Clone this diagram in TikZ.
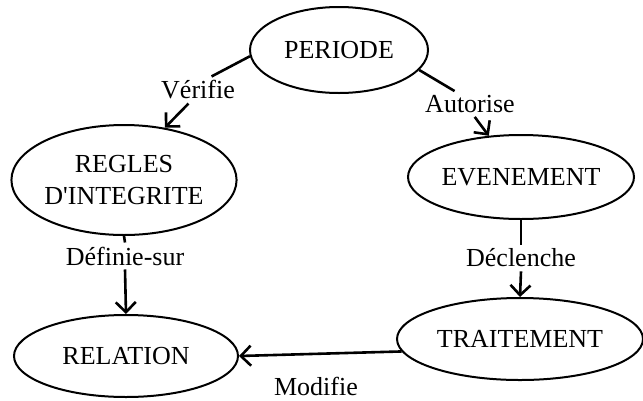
\documentclass[tikz,border=0pt]{standalone}
\usepackage{fontspec}
\setmainfont{Liberation Serif}
\usetikzlibrary{shapes.geometric,arrows.meta}

\begin{document}
\begin{tikzpicture}[x=1pt,y=-1pt,
    every node/.style={font=\fontsize{26}{32}\selectfont},
    entite/.style={draw, ellipse, line width=2pt, inner sep=0pt, align=center},
    lien/.style={line width=2.6pt},
    fleche/.style={lien, -{Straight Barb[length=10pt,width=20pt,line width=2.6pt]}},
    verbe/.style={inner sep=4pt}]
    \useasboundingbox (0,0) rectangle (643,400);

    % Entites
    \node[entite, minimum width=178pt, minimum height=86pt] (periode) at (339,50) {PERIODE};
    \node[entite, minimum width=222pt, minimum height=110pt] (regles) at (124,180) {REGLES\\D\textquotesingle INTEGRITE};
    \node[entite, minimum width=226pt, minimum height=84pt] (evenement) at (521,177) {EVENEMENT};
    \node[entite, minimum width=224pt, minimum height=82pt] (relation) at (126,356) {RELATION};
    \node[entite, minimum width=246pt, minimum height=82pt] (traitement) at (520,339) {TRAITEMENT};

    % Verbes
    \node[verbe] (verifie) at (198,90) {Vérifie};
    \node[verbe] (autorise) at (470,104) {Autorise};
    \node[verbe] (definie) at (125,256) {Définie-sur};
    \node[verbe] (declenche) at (521,258) {Déclenche};
    \node[verbe] (modifie) at (316,386) {Modifie};

    % Liens
    \draw[lien] (periode.184) -- (verifie.45);
    \draw[fleche] (verifie.235) -- (regles.52);
    \draw[lien] (periode.346) -- (autorise.140);
    \draw[fleche] (autorise.290) -- (evenement.128);
    \draw[lien] (regles.south) -- (definie.north);
    \draw[fleche] (definie.south) -- (relation.north);
    \draw[lien] (evenement.south) -- (declenche.north);
    \draw[fleche] (declenche.south) -- (traitement.north);
    \draw[fleche] (traitement.186) -- (relation.east);
\end{tikzpicture}
\end{document}
